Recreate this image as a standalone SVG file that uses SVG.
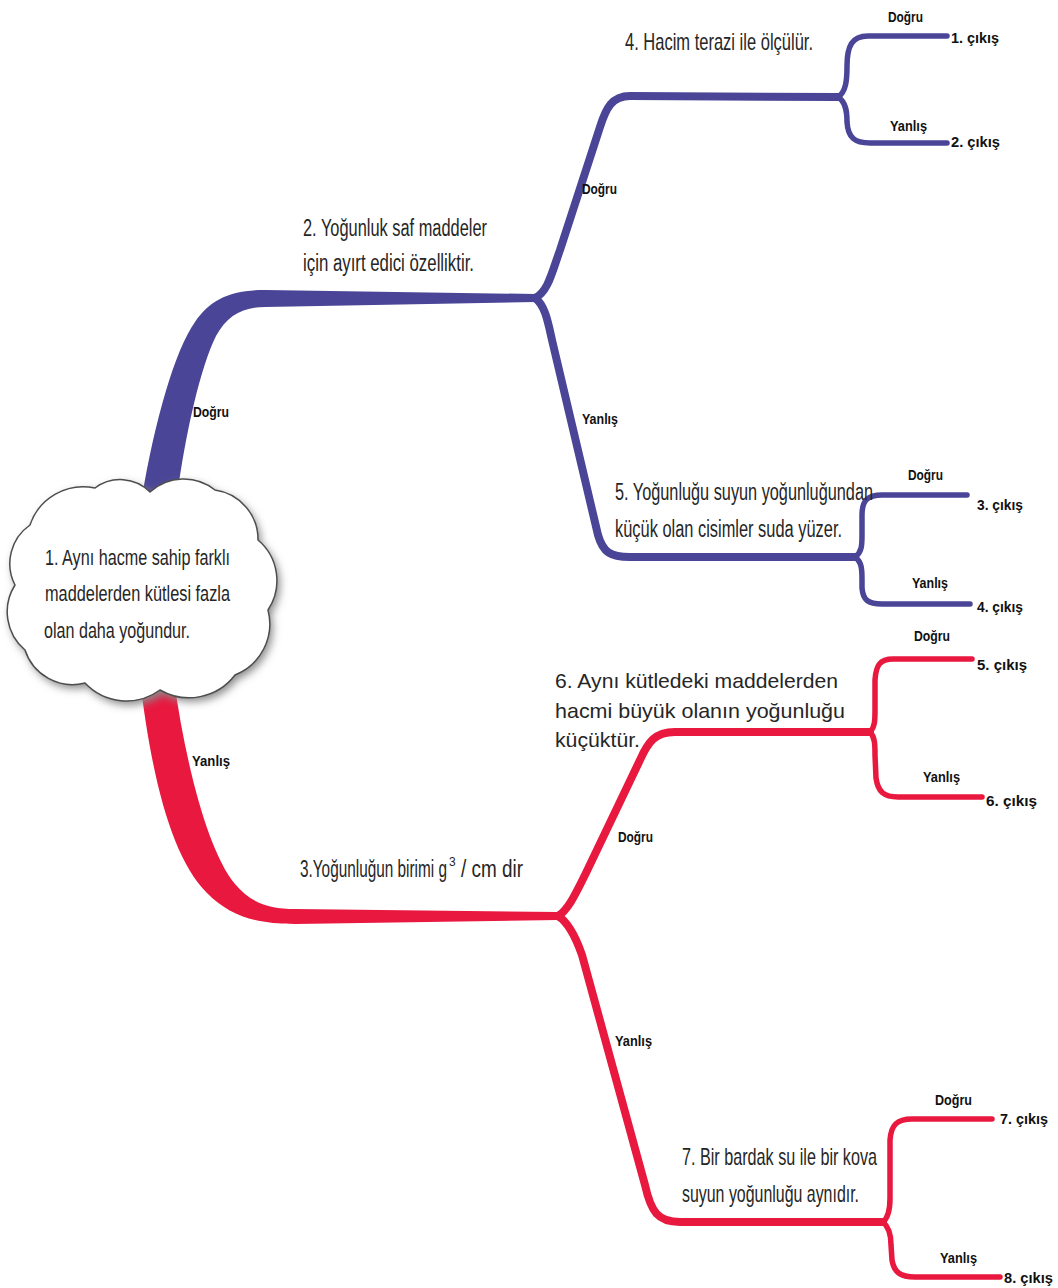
<svg xmlns="http://www.w3.org/2000/svg" width="1058" height="1288" viewBox="0 0 1058 1288">
<defs>
<filter id="blur" x="-20%" y="-20%" width="140%" height="140%"><feGaussianBlur stdDeviation="4"/></filter>
<path id="cloud" d="M30,525 A56,56 0 0 1 95,488 A42,42 0 0 1 150,492 A50,50 0 0 1 215,490 A50,50 0 0 1 258,540 A53,53 0 0 1 268,610 A55,55 0 0 1 235,675 A58,58 0 0 1 160,690 A57,57 0 0 1 85,683 A50,50 0 0 1 25,650 A50,50 0 0 1 15,585 A47,47 0 0 1 30,525 Z"/>
</defs>
<style>
.p{fill:none;stroke:#4a4596;stroke-linecap:round;stroke-linejoin:round}
.r{fill:none;stroke:#e8183f;stroke-linecap:round;stroke-linejoin:round}
.main{stroke-width:8}
.sub{stroke-width:5.5}
.t{font-family:"Liberation Sans",Arial,sans-serif;fill:#262626}
.lb{font-family:"Liberation Sans",Arial,sans-serif;font-weight:bold;font-size:15px;fill:#111}
</style>
<rect width="1058" height="1288" fill="#ffffff"/>
<g id="connectors">
  <path d="M142,497 C155,420 175,350 195,322 C210,300 230,290 265,290 L535,294 L535,302 L265,307 C242,307 227,316 216,336 C201,366 186,430 177,497 Z" fill="#4a4596"/>
  <path class="p main" d="M535,298 C548,292 552,272 560,250 L600,127 C606,108 612,96 630,96 L838,97"/>
  <path class="p main" d="M535,298 C545,305 548,322 552,340 L598,535 C603,552 610,557 630,557 L855,557"/>
  <path class="p sub" d="M838,97 C846,92 847,80 847,66 C847,46 852,36 868,36 L947,36"/>
  <path class="p sub" d="M838,97 C846,102 847,112 847,122 C848,138 855,143 870,143 L947,143"/>
  <path class="p sub" d="M855,557 C862,552 862,545 862,535 L862,515 C862,500 868,495 882,495 L967,495"/>
  <path class="p sub" d="M855,557 C862,562 862,570 862,580 L862,588 C863,600 868,604 882,604 L970,604"/>
  <path d="M140,680 C152,780 172,858 207,893 C230,916 255,924 295,924 L558,920 L558,912 L295,909 C268,909 250,902 235,884 C207,850 185,760 174,680 Z" fill="#e8183f"/>
  <path class="r main" d="M558,916 C568,910 575,895 585,875 L640,760 C648,742 655,732 675,732 L870,732"/>
  <path class="r main" d="M558,916 C568,922 575,935 582,955 L645,1185 C651,1212 658,1222 680,1222 L883,1222"/>
  <path class="r sub" d="M870,732 C875,727 875,720 875,710 L875,680 C876,665 880,659 893,659 L972,659"/>
  <path class="r sub" d="M870,732 C875,737 875,745 875,755 L876,778 C878,792 884,797 898,797 L982,797"/>
  <path class="r sub" d="M883,1222 C889,1217 890,1208 890,1198 L890,1140 C891,1125 897,1119 912,1119 L992,1119"/>
  <path class="r sub" d="M883,1222 C889,1227 891,1235 891,1245 L892,1260 C894,1272 900,1277 915,1277 L1000,1277"/>
  <text class="lb" x="193" y="417" textLength="36" lengthAdjust="spacingAndGlyphs">Doğru</text>
  <text class="lb" x="192" y="766" textLength="38" lengthAdjust="spacingAndGlyphs">Yanlış</text>
  <text class="lb" x="582" y="194" textLength="35" lengthAdjust="spacingAndGlyphs">Doğru</text>
  <text class="lb" x="582" y="424" textLength="36" lengthAdjust="spacingAndGlyphs">Yanlış</text>
  <text class="lb" x="888" y="22" textLength="35" lengthAdjust="spacingAndGlyphs">Doğru</text>
  <text class="lb" x="890" y="131" textLength="37" lengthAdjust="spacingAndGlyphs">Yanlış</text>
  <text class="lb" x="908" y="480" textLength="35" lengthAdjust="spacingAndGlyphs">Doğru</text>
  <text class="lb" x="912" y="588" textLength="36" lengthAdjust="spacingAndGlyphs">Yanlış</text>
  <text class="lb" x="914" y="641" textLength="36" lengthAdjust="spacingAndGlyphs">Doğru</text>
  <text class="lb" x="923" y="782" textLength="37" lengthAdjust="spacingAndGlyphs">Yanlış</text>
  <text class="lb" x="618" y="842" textLength="35" lengthAdjust="spacingAndGlyphs">Doğru</text>
  <text class="lb" x="615" y="1046" textLength="37" lengthAdjust="spacingAndGlyphs">Yanlış</text>
  <text class="lb" x="935" y="1105" textLength="37" lengthAdjust="spacingAndGlyphs">Doğru</text>
  <text class="lb" x="940" y="1263" textLength="37" lengthAdjust="spacingAndGlyphs">Yanlış</text>
</g>
<g id="node1">
  <use href="#cloud" fill="#8a8a8a" transform="translate(3,4)" filter="url(#blur)"/>
  <use href="#cloud" fill="#ffffff" stroke="#4d4d4d" stroke-width="1.5"/>
  <text class="t" font-size="22" x="45" y="565" textLength="185" lengthAdjust="spacingAndGlyphs">1. Aynı hacme sahip farklı</text>
  <text class="t" font-size="22" x="45" y="601" textLength="185" lengthAdjust="spacingAndGlyphs">maddelerden kütlesi fazla</text>
  <text class="t" font-size="22" x="44" y="638" textLength="146" lengthAdjust="spacingAndGlyphs">olan daha yoğundur.</text>
</g>
<g id="node2">
  <text class="t" font-size="23" x="303" y="236" textLength="184" lengthAdjust="spacingAndGlyphs">2. Yoğunluk saf maddeler</text>
  <text class="t" font-size="23" x="303" y="271" textLength="171" lengthAdjust="spacingAndGlyphs">için ayırt edici özelliktir.</text>
</g>
<g id="node3">
  <text class="t" font-size="23" x="300" y="877" textLength="147" lengthAdjust="spacingAndGlyphs">3.Yoğunluğun birimi g</text>
  <text class="t" font-size="12" x="449" y="866">3</text>
  <text class="t" font-size="23" x="461" y="877" textLength="62" lengthAdjust="spacingAndGlyphs">/ cm dir</text>
</g>
<g id="node4">
  <text class="t" font-size="24" x="625" y="50" textLength="188" lengthAdjust="spacingAndGlyphs">4. Hacim terazi ile ölçülür.</text>
</g>
<g id="node5">
  <text class="t" font-size="23" x="615" y="500" textLength="258" lengthAdjust="spacingAndGlyphs">5. Yoğunluğu suyun yoğunluğundan</text>
  <text class="t" font-size="23" x="615" y="537" textLength="227" lengthAdjust="spacingAndGlyphs">küçük olan cisimler suda yüzer.</text>
</g>
<g id="node6">
  <text class="t" font-size="21" x="555" y="688" textLength="283" lengthAdjust="spacingAndGlyphs">6. Aynı kütledeki maddelerden</text>
  <text class="t" font-size="21" x="555" y="718" textLength="290" lengthAdjust="spacingAndGlyphs">hacmi büyük olanın yoğunluğu</text>
  <text class="t" font-size="21" x="555" y="747" textLength="85" lengthAdjust="spacingAndGlyphs">küçüktür.</text>
</g>
<g id="node7">
  <text class="t" font-size="24" x="682" y="1165" textLength="195" lengthAdjust="spacingAndGlyphs">7. Bir bardak su ile bir kova</text>
  <text class="t" font-size="24" x="682" y="1202" textLength="177" lengthAdjust="spacingAndGlyphs">suyun yoğunluğu aynıdır.</text>
</g>
<g id="exit1"><text class="lb" x="951" y="43" textLength="48" lengthAdjust="spacingAndGlyphs">1. çıkış</text></g>
<g id="exit2"><text class="lb" x="951" y="147" textLength="49" lengthAdjust="spacingAndGlyphs">2. çıkış</text></g>
<g id="exit3"><text class="lb" x="977" y="510" textLength="46" lengthAdjust="spacingAndGlyphs">3. çıkış</text></g>
<g id="exit4"><text class="lb" x="977" y="612" textLength="46" lengthAdjust="spacingAndGlyphs">4. çıkış</text></g>
<g id="exit5"><text class="lb" x="977" y="670" textLength="50" lengthAdjust="spacingAndGlyphs">5. çıkış</text></g>
<g id="exit6"><text class="lb" x="986" y="806" textLength="51" lengthAdjust="spacingAndGlyphs">6. çıkış</text></g>
<g id="exit7"><text class="lb" x="1000" y="1124" textLength="48" lengthAdjust="spacingAndGlyphs">7. çıkış</text></g>
<g id="exit8"><text class="lb" x="1004" y="1283" textLength="49" lengthAdjust="spacingAndGlyphs">8. çıkış</text></g>
</svg>
